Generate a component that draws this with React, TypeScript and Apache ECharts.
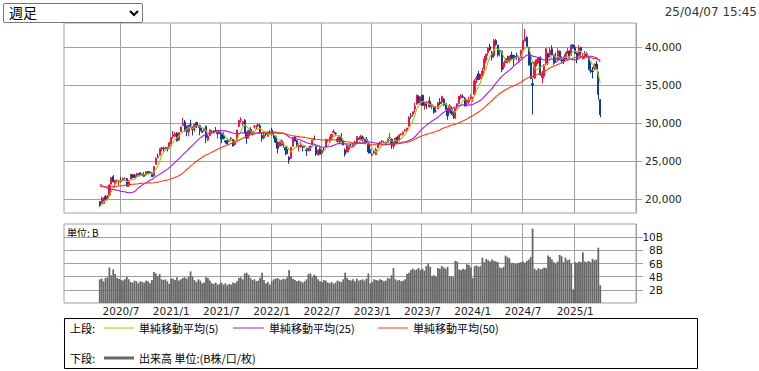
import React, { useEffect, useRef } from 'react';
import * as echarts from 'echarts';

// ---- data ----
const firstWeek = '2020-04-20'; // Monday of the first weekly candle
const padBefore = 18;
const padAfter = 18;

const opens = [
  19700,19480,19470,20360,20180,20550,22000,23000,22100,22400,22300,22500,22560,22750,22700,21800,22700,23230,23000,23140,23110,23480,23300,23300,23200,23650,23600,23500,23100,24600,25600,25800,26700,26700,26700,26800,26800,
  27300,28300,28300,28700,27800,28900,29700,30200,29400,28900,29800,29500,29400,30100,29600,29700,29000,29000,29600,27800,28400,28900,29000,29100,28600,29000,28700,28400,27700,27700,27600,28000,27900,27200,27800,29600,30400,30000,30400,28800,28400,29200,28700,29500,29600,29800,29700,28400,28100,28600,28300,28800,
  29100,28200,28300,27500,27000,27300,27300,26800,26600,25500,25400,27000,28200,27700,26900,26900,26900,26900,26500,26400,27000,27200,27900,27000,25800,26800,26100,26800,26900,27800,27800,28200,28800,28700,27900,27600,28300,27600,26500,26200,26600,26900,26900,27500,27400,28000,27900,28200,27900,27900,27200,26400,
  25800,26200,25900,26800,27300,27600,27500,27500,27500,28100,27900,27000,27400,28200,27700,28500,28600,29000,29100,29600,31000,31200,31900,32500,33500,32700,33700,32300,32600,32700,32900,32200,32100,31600,31900,32800,32800,33200,32600,31700,31500,31800,31100,30700,32200,32600,33400,33500,33300,32800,32800,33300,
  33300,33800,35800,36500,36000,36300,37200,38300,39300,40100,39400,38900,40900,40300,39400,39500,37400,38000,38500,38300,39000,38800,38800,38900,38400,38600,39700,40800,41300,40000,38000,35200,36000,37800,38000,38700,36000,36200,37800,39200,39000,39800,39000,38100,38300,39500,38300,38400,38400,39200,39500,39000,40300,
  40000,39400,38900,40000,38500,38900,39200,38700,37000,36900,37200,37800,36600,33100,
];
const highs = [
  19720,20370,20180,20570,20600,21970,22920,23190,22590,22600,22580,22900,22900,22900,22800,22550,23340,23300,23340,23470,23430,23570,23400,23560,23680,23720,23700,23530,24330,25520,26000,26700,26900,26890,26900,26900,27600,
  28200,28980,28860,28850,28800,29560,30710,30450,29700,29800,30480,29500,29700,30200,29800,29800,29400,29400,29700,28500,29200,29100,29100,29500,29100,29100,28800,28800,27700,28000,27900,28200,27900,27800,29130,30450,30800,30250,30560,28900,29100,29500,29000,29800,29800,29960,29900,28800,28900,28800,28900,29100,
  29390,28800,28400,27600,27600,27900,27500,26900,27000,25700,26900,28200,28340,27800,27200,27600,27000,27100,26700,26900,27000,27800,28390,27000,26500,27060,26600,26800,27950,27900,28200,28550,29220,28800,28200,28300,28700,27800,26700,27400,27100,27300,27400,27700,28300,28100,28500,28400,28000,28200,27400,26600,
  26000,26500,26800,27400,27600,27800,27700,27600,28000,28730,28000,27600,28100,28300,28500,28700,28900,29280,29400,30920,31350,31560,32700,33770,33700,33530,33750,32800,32900,33000,33490,32600,32200,32300,32800,33300,33630,33300,32700,32000,32530,32200,31600,32000,32600,33600,33850,33800,33450,33200,33500,33800,
  33500,35800,36240,36900,36500,37300,38860,39160,40000,40470,39500,41090,41090,40300,39800,39600,38000,38600,38900,38920,39440,39000,39000,39300,38800,39700,40950,42420,41500,40050,39190,35900,38100,38400,38700,38800,36900,37800,39830,39200,39980,40250,39100,39300,39880,39600,38800,38800,39400,39900,39600,40400,40400,
  40300,39400,40280,40000,39200,39500,39400,38800,38000,37400,37900,38220,36800,33200,
];
const lows = [
  19000,19390,19450,19900,20040,20550,21960,22230,21530,22100,21880,22250,22470,22600,21710,21640,22600,22780,22830,22850,23000,23200,23040,22960,23150,23400,23450,22950,22950,24600,25400,25780,26300,26300,26600,26300,26700,
  26950,28000,28200,27630,27750,28900,29700,28950,28300,28300,29400,28400,28900,29400,29400,28420,28760,28900,27380,27650,28300,28600,28700,28900,28000,28600,27400,27900,27330,27200,27500,27800,26950,27100,27750,29500,30100,29700,28700,27300,28000,28600,28400,29300,29200,29500,28600,27580,27900,28300,28200,28700,
  28400,28000,27400,26040,27000,27000,26800,25780,25950,24680,25300,26900,27600,26800,26300,26800,26300,26800,25690,26300,26350,27100,27800,25700,25800,25900,25800,26300,26900,27500,27500,27800,28800,28300,27500,27400,27500,27100,25620,26200,26200,26800,26800,26900,27300,27800,27900,27600,27500,27400,26000,26000,
  25660,26000,25800,26700,27200,27400,27400,27100,27400,28000,26630,26650,27300,27400,27600,28400,28400,28900,28900,29600,30600,30900,31400,32500,32600,32400,32300,31790,31900,32100,32100,31850,31270,31400,31900,32400,32500,32300,31700,30480,31400,31100,30600,30600,31900,32500,33200,33300,32200,32200,32500,33100,
  32800,33700,35300,35700,35800,36000,37000,37900,38900,39500,38270,38600,40200,38770,38800,36730,37100,37900,37900,37900,38300,37600,38400,38300,38000,38600,39600,40800,39900,37600,35800,31156,35800,37500,37900,36300,35250,35900,37600,37650,38700,38900,37700,38000,38100,38300,37900,37800,38400,39100,38600,38900,39800,
  39100,37900,38800,38900,38400,38500,38600,37000,36600,35900,37000,37100,33100,30792,
];
const closes = [
  19262,19619,20179,20037,20388,21877,22863,22305,22478,22512,22306,22290,22696,22751,21710,22329,23289,22920,22882,23205,23406,23360,23204,23029,23619,23410,23516,22977,24325,25385,25527,26644,26751,26652,26763,26656,27444,
  28139,28519,28631,27663,28779,29520,30017,28966,28864,29717,29792,29176,29854,29768,29683,29020,28812,29357,28084,28317,29149,28941,28948,28964,29066,28783,27940,28003,27548,27283,27820,28069,27013,27641,29128,30381,30500,30248,28771,28048,29068,28804,28892,29611,29609,29745,28751,28029,28437,28545,28782,28791,
  28478,28124,27522,26717,27439,27696,27122,26476,25985,25162,26827,28149,27665,26985,27093,27105,26847,27003,26427,26739,26781,27761,27824,25963,26491,25935,26517,26788,27914,27801,28175,28546,28930,28641,27650,28214,27567,27153,25937,27116,27090,26890,27105,27199,28263,27899,28283,27777,27901,27527,26235,26094,
  25973,26119,26553,27382,27509,27670,27513,27453,27927,28143,27333,27385,28041,27518,28493,28564,28856,29123,29388,30808,30916,31524,32265,33706,32781,33189,32388,32391,32304,32759,32193,32473,31450,31624,32710,32606,33533,32402,31857,30995,32315,31259,30991,31950,32568,33585,33625,33431,32307,32970,33169,33464,
  33377,35577,35963,35751,36158,36897,38487,39098,39910,39688,38707,40888,40369,38992,39523,37068,37934,38236,38229,38787,38646,38487,38683,38814,38596,39583,40912,41190,40063,37667,35909,35025,38062,38364,38647,36391,36581,37723,39829,38635,39605,38981,37913,38053,39500,38642,38283,38208,39091,39470,38701,40281,39894,
  39190,38451,39931,39572,38787,39149,38776,37155,36887,36790,37677,37120,33780,31136,
];
// weekly closes before the first candle (for the moving averages)
const priorCloses = [
  21250,21117,20601,20884,21116,21258,21275,21746,21685,21466,21658,21087,20684,20418,20710,20704,21199,21988,22079,21878,21410,21798,22492,22799,22850,23391,23303,23112,23293,23354,24023,23816,23837,23656,23850,24041,23827,23205,23827,23687,23386,21142,20749,17431,16552,19389,17820,19498,19897,
];
// weekly volume, in B
const volumes = [
  3.6,3.7,3.3,3.8,3.9,5.4,4.2,5.1,4.4,3.8,
  3.7,3.5,3.4,3.6,4.0,3.6,3.2,3.1,3.4,3.3,
  3.0,3.3,3.2,3.1,3.4,3.3,3.0,3.5,
  4.7,4.5,4.1,4.4,
  3.6,3.5,3.6,3.3,2.9,3.7,3.7,3.5,3.9,3.4,3.6,3.8,3.9,3.7,4.0,
  4.8,
  4.0,3.5,3.2,3.6,3.4,3.0,3.1,
  3.9,3.8,3.4,
  3.0,2.9,3.1,2.8,2.9,3.1,2.8,3.0,2.7,2.9,2.8,3.1,3.0,3.3,3.8,
  3.9,3.6,4.5,4.6,4.3,3.8,
  3.5,3.6,3.3,3.4,3.8,4.6,3.5,
  3.0,3.2,2.8,3.3,
  3.6,3.7,3.8,3.6,3.5,3.7,3.6,3.9,
  5.0,
  4.1,3.7,3.5,3.3,3.4,3.3,3.1,3.3,3.6,
  4.4,4.5,3.9,4.3,
  4.1,3.6,3.3,3.2,3.5,3.4,3.1,3.0,3.2,2.9,3.1,3.4,3.3,3.2,3.6,
  4.6,
  3.8,3.5,3.4,3.6,3.3,3.7,3.4,3.5,3.6,3.4,3.7,
  4.5,
  3.0,3.2,3.6,3.5,3.4,3.6,3.5,3.3,3.4,3.8,3.7,4.2,
  5.3,
  3.6,3.4,3.5,3.3,3.4,3.6,4.4,4.6,
  5.0,5.2,5.0,5.1,5.3,5.0,5.2,4.9,
  5.6,6.0,5.5,
  4.1,4.2,4.0,
  5.3,5.2,5.6,5.4,5.2,5.5,
  4.0,4.1,3.9,
  6.4,6.3,
  5.1,5.0,5.2,5.1,
  5.9,5.8,5.4,
  3.8,
  5.6,5.7,5.5,5.6,
  6.9,
  6.2,6.7,6.5,6.3,6.6,
  6.4,6.3,6.2,
  5.4,5.3,5.5,
  7.2,7.0,6.8,
  6.0,6.1,5.9,6.0,6.1,6.2,
  6.3,6.1,6.4,6.6,7.0,
  11.3,
  5.2,5.0,5.3,5.1,5.2,5.4,5.3,
  7.2,7.0,6.6,
  6.2,6.0,6.3,
  7.3,7.1,
  6.2,6.9,6.5,6.6,6.0,
  2.1,
  6.2,6.1,6.3,6.2,
  7.7,
  6.3,6.2,6.4,6.2,
  6.7,6.5,6.6,
  8.4,
  2.7,
];
const priceTicks = [20000, 25000, 30000, 35000, 40000];
const volumeTicks = [2, 4, 6, 8, 10];
const maPeriods = [5, 25, 50];
const maColors = ['#99cc00', '#9a1aff', '#ff3a0a'];
const timestamp = '25/04/07 15:45';

// ---- helpers ----
function buildCategories(): string[] {
  const out: string[] = [];
  for (let i = 0; i < padBefore; i++) out.push('pad-a' + i);
  const d0 = new Date(firstWeek + 'T00:00:00Z').getTime();
  for (let i = 0; i < closes.length; i++) {
    const d = new Date(d0 + i * 7 * 86400000);
    out.push(`${d.getUTCFullYear()}/${d.getUTCMonth() + 1}/${d.getUTCDate()}`);
  }
  for (let i = 0; i < padAfter; i++) out.push('pad-b' + i);
  return out;
}

function isHalfYearStart(v: string): boolean {
  if (v.startsWith('pad')) return false;
  const [, m, d] = v.split('/').map(Number);
  return (m === 1 || m === 7) && d <= 7;
}

function movingAverage(n: number): (number | string)[] {
  const all = priorCloses.concat(closes);
  const off = priorCloses.length;
  const out: (number | string)[] = [];
  for (let i = 0; i < padBefore; i++) out.push('-');
  for (let i = 0; i < closes.length; i++) {
    const end = off + i;
    const start = end - n + 1;
    if (start < 0) { out.push('-'); continue; }
    let s = 0;
    for (let k = start; k <= end; k++) s += all[k];
    out.push(Math.round((s / n) * 10) / 10);
  }
  for (let i = 0; i < padAfter; i++) out.push('-');
  return out;
}

const JP = '"Noto Sans CJK JP", "Noto Sans", sans-serif';
const NUM = '"DejaVu Sans", sans-serif';

export default function App() {
  const ref = useRef<HTMLDivElement>(null);

  useEffect(() => {
    if (!ref.current) return;
    const chart = echarts.init(ref.current, null, { renderer: 'svg' });
    const categories = buildCategories();
    const candleData = closes.map((c, i) => [padBefore + i, opens[i], c, lows[i], highs[i]]);
    const volData: (number | string)[] = [];
    for (let i = 0; i < padBefore; i++) volData.push('-');
    volumes.forEach((v) => volData.push(v));
    for (let i = 0; i < padAfter; i++) volData.push('-');

    const xCommon = {
      type: 'category' as const,
      data: categories,
      boundaryGap: true,
      axisLine: { show: false },
      axisTick: { show: false },
      splitLine: {
        show: true,
        interval: (_i: number, v: string) => isHalfYearStart(v),
        lineStyle: { color: '#a0a0a0', width: 1 },
      },
    };

    const legendY1 = 328;
    const legendY2 = 358;
    const textStyle = (x: number, y: number, t: string) => ({
      type: 'text',
      x,
      y,
      style: { text: t, fill: '#000', font: `11px ${JP}`, verticalAlign: 'middle', align: 'left' },
    });
    const legendLine = (x1: number, x2: number, y: number, color: string, w: number) => ({
      type: 'line',
      shape: { x1, y1: y, x2, y2: y },
      style: { stroke: color, lineWidth: w },
    });

    chart.setOption({
      animation: false,
      backgroundColor: '#fff',
      grid: [
        { left: 64, top: 23, width: 572, height: 190, show: true, borderColor: '#a0a0a0', borderWidth: 1, backgroundColor: 'transparent' },
        { left: 64, top: 224, width: 572, height: 79, show: true, borderColor: '#a0a0a0', borderWidth: 1, backgroundColor: 'transparent' },
      ],
      xAxis: [
        { ...xCommon, gridIndex: 0, axisLabel: { show: false } },
        {
          ...xCommon,
          gridIndex: 1,
          axisLabel: {
            show: true,
            interval: (_i: number, v: string) => isHalfYearStart(v),
            formatter: (v: string) => {
              const p = v.split('/');
              return `${p[0]}/${p[1]}`;
            },
            color: '#222',
            fontSize: 10.5,
            fontFamily: NUM,
            margin: 2,
          },
        },
      ],
      yAxis: [
        {
          type: 'value',
          gridIndex: 0,
          position: 'right',
          min: 18200,
          max: 43200,
          axisLine: { show: false },
          axisTick: { show: true, length: 6, customValues: priceTicks, lineStyle: { color: '#a0a0a0' } },
          axisLabel: {
            customValues: priceTicks,
            formatter: (v: number) => v.toLocaleString('en-US'),
            color: '#222',
            fontSize: 10.5,
            fontFamily: NUM,
            margin: 9,
          },
          splitLine: { show: true, lineStyle: { color: '#a0a0a0', width: 1 } },
        },
        {
          type: 'value',
          gridIndex: 1,
          position: 'right',
          min: 0,
          max: 12,
          axisLine: { show: false },
          axisTick: { show: true, length: 7, customValues: volumeTicks, lineStyle: { color: '#a0a0a0' } },
          axisLabel: {
            customValues: volumeTicks,
            formatter: (v: number) => v + 'B',
            color: '#222',
            fontSize: 10.5,
            fontFamily: NUM,
            margin: 27,
            align: 'right',
          },
          splitLine: { show: true, lineStyle: { color: '#a0a0a0', width: 1 } },
        },
      ],
      series: [
        {
          type: 'candlestick',
          xAxisIndex: 0,
          yAxisIndex: 0,
          data: candleData,
          encode: { x: 0, y: [1, 2, 3, 4] },
          barWidth: 1.8,
          itemStyle: {
            color: '#f0143f',
            color0: '#0c3c9e',
            borderColor: '#f0143f',
            borderColor0: '#0c3c9e',
            borderWidth: 1,
          },
        },
        ...maPeriods.map((n, k) => ({
          type: 'line',
          name: `MA${n}`,
          xAxisIndex: 0,
          yAxisIndex: 0,
          data: movingAverage(n),
          symbol: 'none',
          showSymbol: false,
          lineStyle: { color: maColors[k], width: 1.1 },
          z: 3 + k,
        })),
        {
          type: 'bar',
          xAxisIndex: 1,
          yAxisIndex: 1,
          data: volData,
          barCategoryGap: '8%',
          itemStyle: { color: '#666666' },
        },
      ],
      graphic: [
        {
          type: 'text',
          x: 757,
          y: 12,
          style: { text: timestamp, fill: '#333', font: `12px ${NUM}`, align: 'right', verticalAlign: 'middle' },
        },
        {
          type: 'text',
          x: 67,
          y: 232,
          style: { text: '単位: B', fill: '#000', font: `10px ${JP}`, align: 'left', verticalAlign: 'middle' },
        },
        {
          type: 'rect',
          shape: { x: 64.5, y: 318.5, width: 633, height: 50 },
          style: { fill: 'none', stroke: '#000', lineWidth: 1 },
        },
        textStyle(70, legendY1, '上段:'),
        legendLine(104, 134, legendY1, maColors[0], 1),
        textStyle(139, legendY1, '単純移動平均(5)'),
        legendLine(233, 264, legendY1, maColors[1], 1),
        textStyle(269, legendY1, '単純移動平均(25)'),
        legendLine(378, 408, legendY1, maColors[2], 1),
        textStyle(413, legendY1, '単純移動平均(50)'),
        textStyle(70, legendY2, '下段:'),
        legendLine(104, 134, legendY2, '#666666', 3),
        textStyle(139, legendY2, '出来高 単位:(B株/口/枚)'),
      ],
    });
    return () => chart.dispose();
  }, []);

  return (
    <div style={{ position: 'fixed', left: 0, top: 0, width: 759, height: 371, background: '#fff' }}>
      <div ref={ref} style={{ position: 'absolute', left: 0, top: 0, width: 759, height: 371 }} />
      <select
        defaultValue="week"
        style={{
          position: 'absolute',
          left: 3,
          top: 3,
          width: 140,
          height: 20,
          fontSize: 14,
          fontFamily: '"DejaVu Sans", "Noto Sans CJK JP", sans-serif',
          padding: 0,
          paddingLeft: 1,
          boxSizing: 'border-box',
        }}
      >
        <option value="day">日足</option>
        <option value="week">週足</option>
        <option value="month">月足</option>
      </select>
    </div>
  );
}
